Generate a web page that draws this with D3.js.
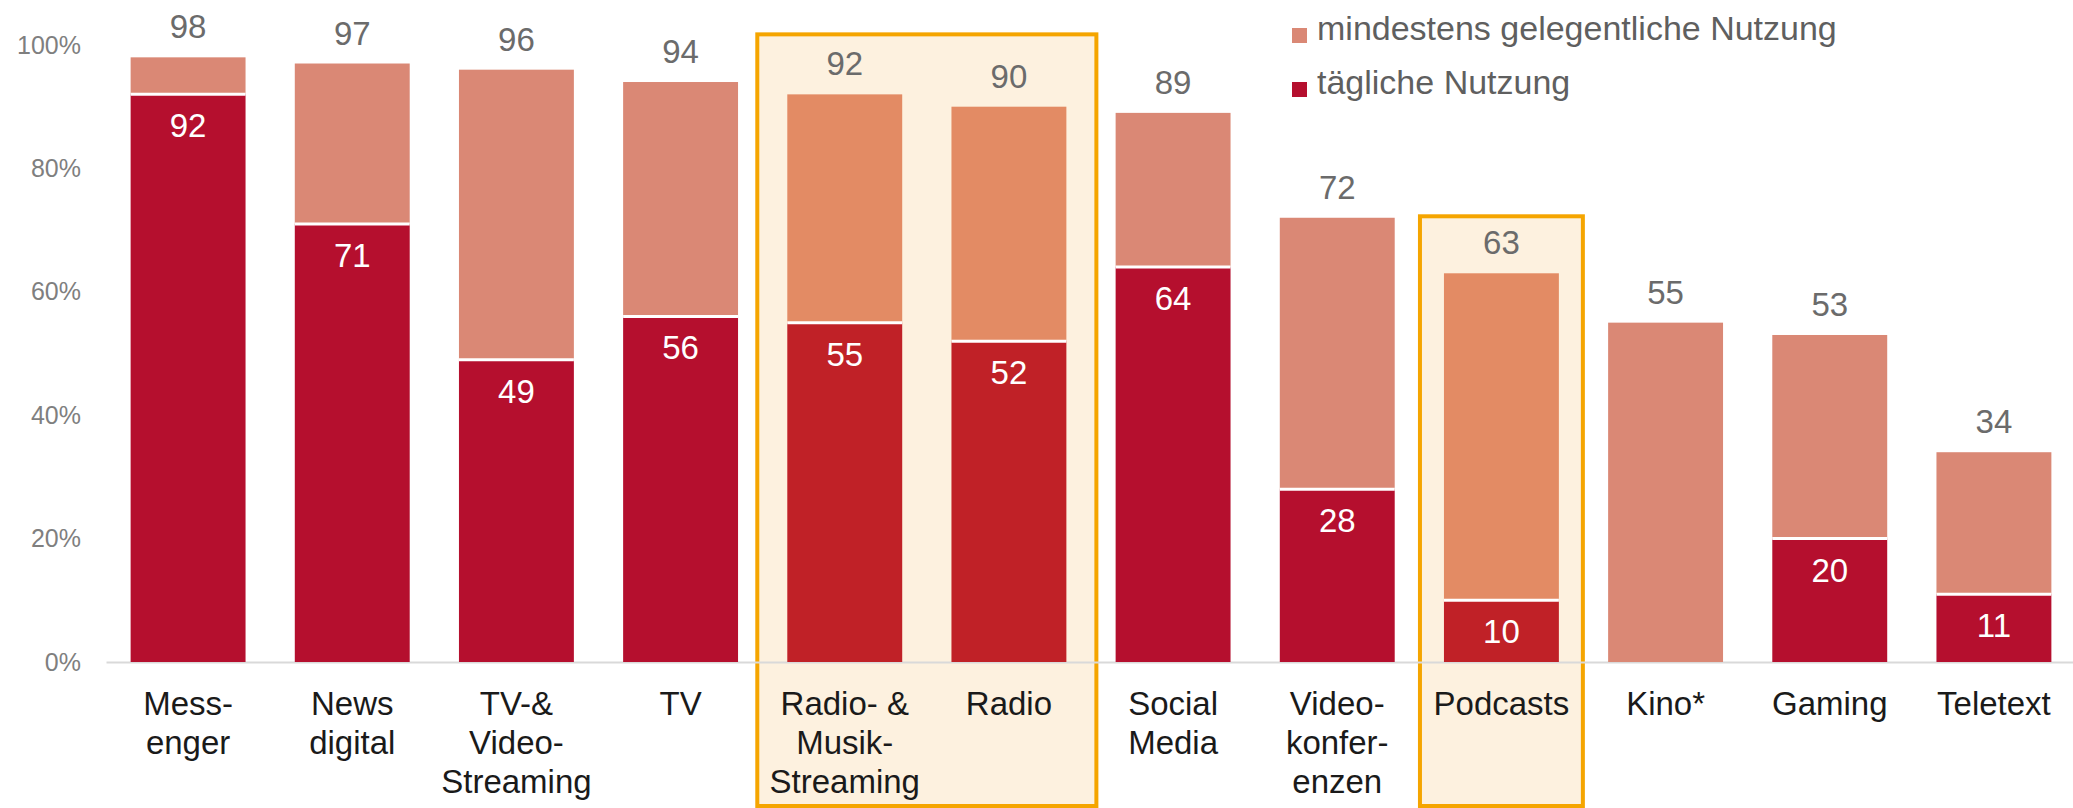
<!DOCTYPE html>
<html>
<head>
<meta charset="utf-8">
<script src="https://cdn.jsdelivr.net/npm/d3@7"></script>
<style>
  body { margin: 0; background: #fff; }
  svg { display: block; font-family: 'Liberation Sans', Arial, sans-serif; }
</style>
</head>
<body>
<script>
// data
var categories = ['Mess-\nenger', 'News\ndigital', 'TV-&\nVideo-\nStreaming', 'TV', 'Radio- &\nMusik-\nStreaming', 'Radio',
  'Social\nMedia', 'Video-\nkonfer-\nenzen', 'Podcasts', 'Kino*', 'Gaming', 'Teletext'];
var totalUse = [98, 97, 96, 94, 92, 90, 89, 72, 63, 55, 53, 34];
var dailyUse = [92, 71, 49, 56, 55, 52, 64, 28, 10, 0, 20, 11];
var highlightGroups = [['Radio- &\nMusik-\nStreaming', 'Radio'], ['Podcasts']];
var yTicks = [0, 20, 40, 60, 80, 100];
var legendLabels = ['mindestens gelegentliche Nutzung', 'tägliche Nutzung'];

var width = 2073;
var height = 808;

var colors = {
  occ: '#da8875', occHi: '#e38b64',
  daily: '#b50f2e', dailyHi: '#c02127',
  boxFill: '#fdf1df', boxStroke: '#f5a500'
};

var svg = d3.select('body').append('svg')
  .attr('width', width)
  .attr('height', height);

var x = d3.scaleBand().domain(categories).range([106, 2076]).paddingInner(0.3).paddingOuter(0.15);
var y = d3.scaleLinear().domain([0, 100]).range([662, 45]);

var isHi = function (c) {
  return highlightGroups.some(function (g) { return g.indexOf(c) >= 0; });
};

// highlight boxes (behind everything)
var boxPad = [30, 24];
var boxTop = [60, 57];
highlightGroups.forEach(function (g, gi) {
  var maxVal = d3.max(g, function (c) { return totalUse[categories.indexOf(c)]; });
  var x0 = x(g[0]) - boxPad[gi];
  var x1 = x(g[g.length - 1]) + x.bandwidth() + boxPad[gi];
  svg.append('rect')
    .attr('x', x0)
    .attr('y', y(maxVal) - boxTop[gi])
    .attr('width', x1 - x0)
    .attr('height', y(0) + 144 - (y(maxVal) - boxTop[gi]))
    .attr('fill', colors.boxFill)
    .attr('stroke', colors.boxStroke)
    .attr('stroke-width', 4);
});

// x axis (baseline + category labels)
svg.append('g')
  .attr('transform', 'translate(0,' + y(0) + ')')
  .call(d3.axisBottom(x).tickSize(0).tickPadding(0))
  .call(function (g) {
    g.attr('font-family', null).attr('font-size', 33);
    g.select('.domain').attr('stroke', '#d9d9d9').attr('stroke-width', 2);
    g.selectAll('.tick text').each(function (d) {
      var t = d3.select(this).text(null).attr('y', null).attr('dy', null).attr('fill', '#1a1a1a');
      d.split('\n').forEach(function (line, i) {
        t.append('tspan').attr('x', 0).attr('y', 53 + i * 39).text(line);
      });
    });
  });

// y axis labels
svg.append('g')
  .attr('transform', 'translate(106,0)')
  .call(d3.axisLeft(y).tickValues(yTicks).tickSize(0).tickPadding(25).tickFormat(function (d) { return d + '%'; }))
  .call(function (g) {
    g.attr('font-family', null).attr('font-size', 25);
    g.select('.domain').remove();
    g.selectAll('.tick text').attr('fill', '#7f7f7f');
  });

var data = categories.map(function (c, i) {
  return { cat: c, total: totalUse[i], daily: dailyUse[i], hi: isHi(c) };
});

var bars = svg.append('g').selectAll('g').data(data).enter().append('g');

// occasional use (upper part)
bars.append('rect')
  .attr('x', function (d) { return x(d.cat); })
  .attr('width', x.bandwidth())
  .attr('y', function (d) { return y(d.total); })
  .attr('height', function (d) { return y(d.daily) - y(d.total); })
  .attr('fill', function (d) { return d.hi ? colors.occHi : colors.occ; });

// daily use
bars.filter(function (d) { return d.daily > 0; }).append('rect')
  .attr('x', function (d) { return x(d.cat); })
  .attr('width', x.bandwidth())
  .attr('y', function (d) { return y(d.daily); })
  .attr('height', function (d) { return y(0) - y(d.daily); })
  .attr('fill', function (d) { return d.hi ? colors.dailyHi : colors.daily; });

// white seam between the segments
bars.filter(function (d) { return d.daily > 0; }).append('line')
  .attr('x1', function (d) { return x(d.cat); })
  .attr('x2', function (d) { return x(d.cat) + x.bandwidth(); })
  .attr('y1', function (d) { return y(d.daily); })
  .attr('y2', function (d) { return y(d.daily); })
  .attr('stroke', '#fff')
  .attr('stroke-width', 3);

// value labels
bars.append('text')
  .attr('x', function (d) { return x(d.cat) + x.bandwidth() / 2; })
  .attr('y', function (d) { return y(d.total) - 19; })
  .attr('text-anchor', 'middle')
  .attr('font-size', 33)
  .attr('fill', '#6b6b6b')
  .text(function (d) { return d.total; });

bars.filter(function (d) { return d.daily > 0; }).append('text')
  .attr('x', function (d) { return x(d.cat) + x.bandwidth() / 2; })
  .attr('y', function (d) { return y(d.daily) + 43; })
  .attr('text-anchor', 'middle')
  .attr('font-size', 33)
  .attr('fill', '#fff')
  .text(function (d) { return d.daily; });

// legend
var legend = svg.append('g').attr('transform', 'translate(1292,28)');
legendLabels.forEach(function (label, i) {
  legend.append('rect')
    .attr('x', 0).attr('y', i * 54)
    .attr('width', 15).attr('height', 15)
    .attr('fill', i === 0 ? colors.occ : colors.daily);
  legend.append('text')
    .attr('x', 25).attr('y', i * 54 + 12)
    .attr('font-size', 34)
    .attr('fill', '#5f5f5f')
    .text(label);
});
</script>
</body>
</html>
